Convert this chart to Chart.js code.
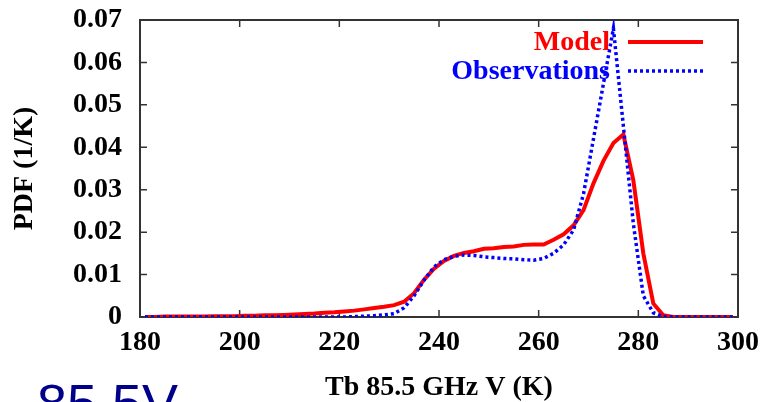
<!DOCTYPE html>
<html>
<head>
<meta charset="utf-8">
<script src="https://cdn.jsdelivr.net/npm/chart.js@4/dist/chart.umd.min.js"></script>
<style>
  html, body { margin: 0; padding: 0; background: #fff; overflow: hidden; }
  #wrap { position: relative; width: 763px; height: 402px; overflow: hidden; }
  #tag {
    position: absolute; left: 37px; top: 376px;
    font: 54px/1 "Liberation Sans", Arial, sans-serif;
    color: #00008b; white-space: nowrap;
  }
</style>
</head>
<body>
<div id="wrap">
  <canvas id="pdfChart" width="763" height="402"></canvas>
  <div id="tag">85.5V</div>
</div>
<script>
// ==============================
// DATA
// ==============================
// brightness temperature bins (K), every 2 K
const tbBins = [
  181, 183, 185, 187, 189, 191, 193, 195, 197, 199,
  201, 203, 205, 207, 209, 211, 213, 215, 217, 219,
  221, 223, 225, 227, 229, 231, 233, 235, 237, 239,
  241, 243, 245, 247, 249, 251, 253, 255, 257, 259,
  261, 263, 265, 267, 269, 271, 273, 275, 277, 279,
  281, 283, 285, 287, 289, 291, 293, 295, 297, 299
];

const modelPdf = [
  0, 0, 0.0001, 0.0001, 0.0001, 0.0001, 0.0001, 0.0002, 0.0002, 0.0002,
  0.0003, 0.0003, 0.0004, 0.0004, 0.0005, 0.0006, 0.0007, 0.0008, 0.0010, 0.0011,
  0.0013, 0.0015, 0.0018, 0.0021, 0.0024, 0.0028, 0.0036, 0.0056, 0.0088, 0.0114,
  0.0132, 0.0144, 0.0151, 0.0155, 0.0161, 0.0162, 0.0165, 0.0166, 0.0170, 0.0171,
  0.0171, 0.0182, 0.0195, 0.0216, 0.0252, 0.0315, 0.0368, 0.0410, 0.0430, 0.0322,
  0.0150, 0.0032, 0.0004, 0, 0, 0, 0, 0, 0, 0
];

const obsPdf = [
  0, 0, 0, 0, 0, 0, 0, 0, 0, 0,
  0, 0, 0, 0, 0, 0, 0, 0, 0, 0,
  0, 0.0001, 0.0002, 0.0003, 0.0005, 0.0008, 0.0022, 0.0050, 0.0087, 0.0118,
  0.0135, 0.0143, 0.0146, 0.0145, 0.0142, 0.0140, 0.0138, 0.0137, 0.0135, 0.0134,
  0.0138, 0.0150, 0.0170, 0.0205, 0.0290, 0.0420, 0.0550, 0.0680, 0.0450, 0.0220,
  0.0050, 0.0010, 0.0001, 0, 0, 0, 0, 0, 0, 0
];

const xTicks = [180, 200, 220, 240, 260, 280, 300];
const yTicks = [0, 0.01, 0.02, 0.03, 0.04, 0.05, 0.06, 0.07];

const seriesNames = ['Model', 'Observations'];

const toPoints = (vals) => tbBins.map((x, i) => ({ x: x, y: vals[i] }));

// ==============================
// FRAME, INWARD TICKS, KEY
// ==============================
const SERIF = '"Liberation Serif", "Times New Roman", serif';

const framePlugin = {
  id: 'frame',
  beforeDatasetsDraw(chart) {
    const { ctx, chartArea: a, scales } = chart;
    const tl = 7;
    ctx.save();
    ctx.strokeStyle = '#333';
    ctx.lineWidth = 1.5;
    ctx.beginPath();
    xTicks.forEach(v => {
      const px = scales.x.getPixelForValue(v);
      ctx.moveTo(px, a.bottom); ctx.lineTo(px, a.bottom - tl);
      ctx.moveTo(px, a.top); ctx.lineTo(px, a.top + tl);
    });
    yTicks.forEach(v => {
      const py = scales.y.getPixelForValue(v);
      ctx.moveTo(a.left, py); ctx.lineTo(a.left + tl, py);
      ctx.moveTo(a.right, py); ctx.lineTo(a.right - tl, py);
    });
    ctx.stroke();
    ctx.lineWidth = 2;
    ctx.strokeRect(a.left, a.top, a.right - a.left, a.bottom - a.top);

    // key, top right inside the plot
    const textX = a.right - 128;
    const x0 = a.right - 110, x1 = a.right - 35;
    const rows = [a.top + 22, a.top + 51];
    ctx.font = 'bold 28px ' + SERIF;
    ctx.textAlign = 'right';
    ctx.textBaseline = 'middle';
    chart.data.datasets.forEach((ds, i) => {
      const y = rows[i];
      ctx.fillStyle = ds.borderColor;
      ctx.fillText(ds.label, textX, y + 1);
      ctx.strokeStyle = ds.borderColor;
      ctx.lineWidth = ds.borderWidth;
      ctx.setLineDash(ds.borderDash || []);
      ctx.beginPath();
      ctx.moveTo(x0, y); ctx.lineTo(x1, y);
      ctx.stroke();
    });
    ctx.restore();
  }
};

// ==============================
// CHART
// ==============================
const chart = new Chart(document.getElementById('pdfChart'), {
  type: 'line',
  data: {
    datasets: [
      {
        label: seriesNames[0],
        data: toPoints(modelPdf),
        borderColor: '#ff0000',
        borderWidth: 4,
        pointRadius: 0,
        tension: 0,
        order: 2
      },
      {
        label: seriesNames[1],
        data: toPoints(obsPdf),
        borderColor: '#0000ff',
        borderWidth: 3.5,
        borderDash: [3, 3],
        pointRadius: 0,
        tension: 0,
        order: 1
      }
    ]
  },
  options: {
    responsive: false,
    animation: false,
    devicePixelRatio: 1,
    layout: { padding: { top: 20, right: 25, bottom: 0, left: 0 } },
    plugins: {
      legend: { display: false },
      tooltip: { enabled: false }
    },
    scales: {
      x: {
        type: 'linear',
        min: 180,
        max: 300,
        afterFit: s => { s.height = 85; s.paddingLeft = 0; s.paddingRight = 0; },
        afterBuildTicks: s => { s.ticks = xTicks.map(v => ({ value: v })); },
        grid: { display: false, drawTicks: false },
        border: { display: false },
        ticks: {
          autoSkip: false,
          maxRotation: 0,
          padding: 9,
          color: '#000',
          font: { family: SERIF, size: 28, weight: 'bold' }
        },
        title: {
          display: true,
          text: 'Tb 85.5 GHz V (K)',
          color: '#000',
          padding: { top: 0, bottom: 0 },
          font: { family: SERIF, size: 28, weight: 'bold', lineHeight: 1 }
        }
      },
      y: {
        min: 0,
        max: 0.07,
        afterFit: s => { s.width = 140; s.paddingTop = 0; s.paddingBottom = 0; },
        afterBuildTicks: s => { s.ticks = yTicks.map(v => ({ value: v })); },
        grid: { display: false, drawTicks: false },
        border: { display: false },
        ticks: {
          autoSkip: false,
          padding: 18,
          color: '#000',
          font: { family: SERIF, size: 28, weight: 'bold' },
          callback: v => v === 0 ? '0' : v.toFixed(2)
        },
        title: {
          display: true,
          text: 'PDF (1/K)',
          color: '#000',
          padding: { top: 11, bottom: 0 },
          font: { family: SERIF, size: 28, weight: 'bold', lineHeight: 1 }
        }
      }
    }
  },
  plugins: [framePlugin]
});
</script>
</body>
</html>
